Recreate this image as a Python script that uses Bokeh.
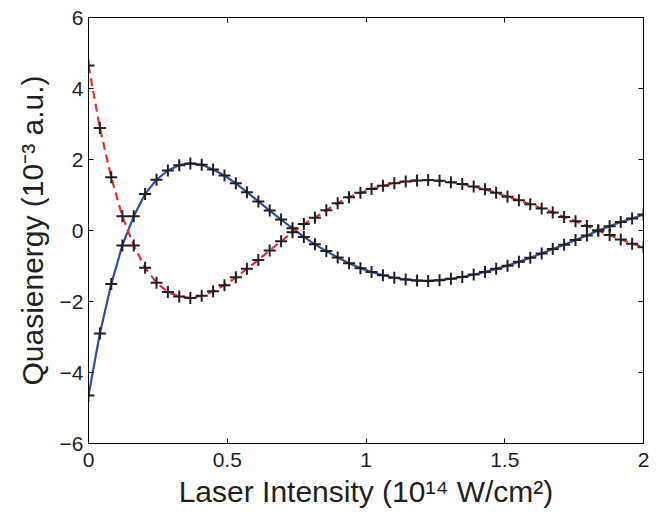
from bokeh.plotting import figure
from bokeh.models import Range1d, LinearAxis, FixedTicker
from bokeh.embed import file_html
from bokeh.resources import INLINE

# Laser intensity (10^14 W/cm^2)
intensity = [0.000, 0.041, 0.082, 0.122, 0.163, 0.204, 0.245, 0.286, 0.327, 0.367,
             0.408, 0.449, 0.490, 0.531, 0.571, 0.612, 0.653, 0.694, 0.735, 0.776,
             0.816, 0.857, 0.898, 0.939, 0.980, 1.020, 1.061, 1.102, 1.143, 1.184,
             1.224, 1.265, 1.306, 1.347, 1.388, 1.429, 1.469, 1.510, 1.551, 1.592,
             1.633, 1.673, 1.714, 1.755, 1.796, 1.837, 1.878, 1.918, 1.959, 2.000]

# Quasienergy (10^-3 a.u.), solid blue branch
blue_branch = [-4.65, -2.90, -1.51, -0.42, 0.40, 1.03, 1.43, 1.69, 1.84, 1.89,
               1.85, 1.72, 1.55, 1.33, 1.08, 0.82, 0.56, 0.31, 0.06, -0.18,
               -0.39, -0.58, -0.76, -0.92, -1.06, -1.17, -1.26, -1.33, -1.38, -1.41,
               -1.42, -1.40, -1.36, -1.31, -1.24, -1.17, -1.08, -0.99, -0.88, -0.77,
               -0.65, -0.52, -0.40, -0.27, -0.14, 0.00, 0.12, 0.24, 0.34, 0.45]

# Quasienergy (10^-3 a.u.), dashed red branch
red_branch = [4.65, 2.89, 1.50, 0.40, -0.42, -1.05, -1.47, -1.73, -1.86, -1.90,
              -1.84, -1.71, -1.54, -1.32, -1.08, -0.83, -0.56, -0.30, -0.05, 0.18,
              0.36, 0.57, 0.77, 0.94, 1.06, 1.17, 1.26, 1.33, 1.38, 1.41,
              1.42, 1.40, 1.36, 1.31, 1.24, 1.16, 1.06, 0.95, 0.85, 0.74,
              0.62, 0.51, 0.38, 0.26, 0.13, 0.00, -0.13, -0.25, -0.37, -0.47]

x_ticks = [0, 0.5, 1, 1.5, 2]
x_tick_labels = ["0", "0.5", "1", "1.5", "2"]
y_ticks = [-6, -4, -2, 0, 2, 4, 6]
y_tick_labels = ["\u22126", "\u22124", "\u22122", "0", "2", "4", "6"]

FONT = "Liberation Sans"
TXT = "#231f20"

p = figure(frame_width=555, frame_height=426,
           min_border_left=88, min_border_right=12, min_border_top=17, min_border_bottom=58,
           x_range=Range1d(0, 2), y_range=Range1d(-6, 6),
           output_backend="svg", toolbar_location=None,
           x_axis_label="Laser Intensity (10\u00b9\u2074 W/cm\u00b2)",
           y_axis_label="Quasienergy (10\u207b\u00b3 a.u.)")
p.xgrid.visible = False
p.ygrid.visible = False
p.outline_line_color = "black"
p.outline_line_width = 1
p.background_fill_color = "white"
p.border_fill_color = "white"


def style(ax, ticks, labels):
    ax.ticker = FixedTicker(ticks=ticks)
    ax.major_label_overrides = {t: l for t, l in zip(ticks, labels)}
    ax.major_tick_in = 5
    ax.major_tick_out = 0
    ax.minor_tick_line_color = None
    ax.axis_line_color = "black"
    ax.major_tick_line_color = "black"
    ax.major_label_text_font = FONT
    ax.major_label_text_font_size = "21px"
    ax.major_label_text_color = TXT
    ax.axis_label_text_font = FONT
    ax.axis_label_text_font_size = "30px"
    ax.axis_label_text_font_style = "normal"
    ax.axis_label_text_color = TXT


style(p.xaxis[0], x_ticks, x_tick_labels)
style(p.yaxis[0], y_ticks, y_tick_labels)
p.xaxis[0].major_label_standoff = 9
p.xaxis[0].axis_label_standoff = 5
p.yaxis[0].major_label_standoff = 5
p.yaxis[0].axis_label_standoff = 8

for loc, ticks in (("above", x_ticks), ("right", y_ticks)):
    ax = LinearAxis()
    style(ax, ticks, [""] * len(ticks))
    ax.major_label_text_font_size = "0px"
    ax.major_label_standoff = 0
    p.add_layout(ax, loc)

p.line(intensity, blue_branch, line_color="#2e4fa3", line_width=2.2)
p.line(intensity, red_branch, line_color="#ee2a2a", line_width=2.2, line_dash="8 5")
p.scatter(intensity, blue_branch, marker="cross", size=12, line_width=2, line_color="#231f20")
p.scatter(intensity, red_branch, marker="cross", size=12, line_width=2, line_color="#231f20")

open("out.html", "w").write(file_html(p, INLINE))
